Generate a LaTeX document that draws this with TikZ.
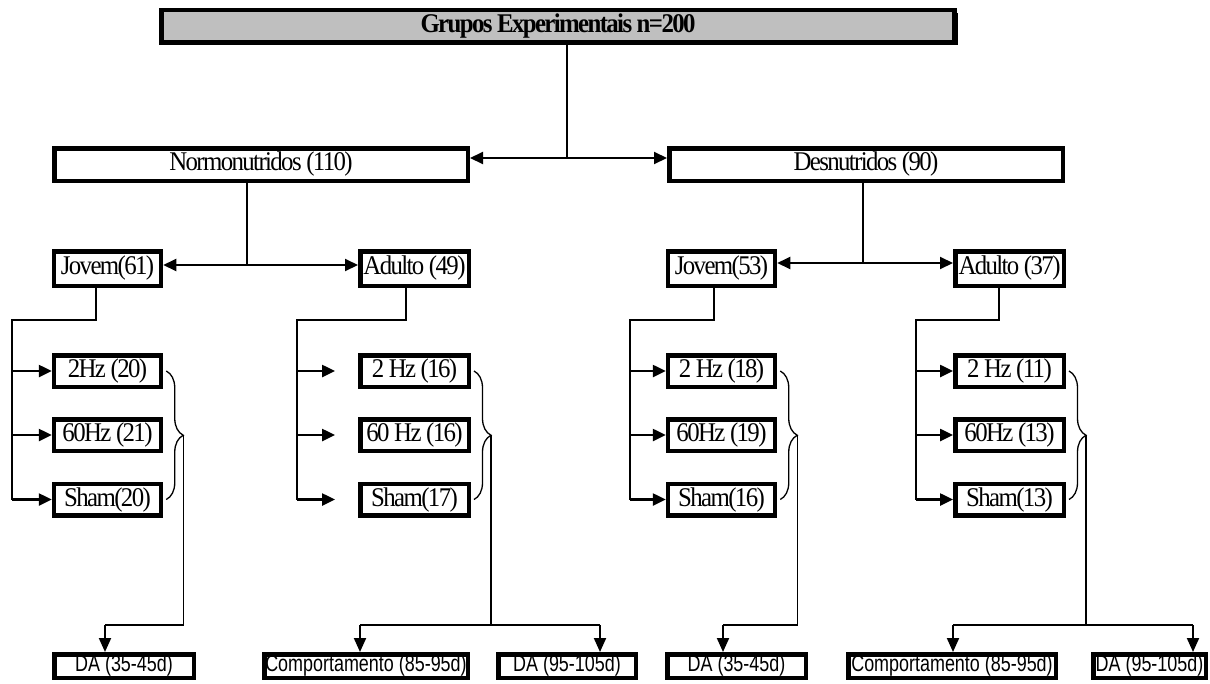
\documentclass[tikz,border=0pt]{standalone}
\usepackage{fontspec}
\usetikzlibrary{arrows.meta,decorations.pathreplacing,shadows,calc}
\newfontfamily\myserif[FakeStretch=0.92,LetterSpace=-6]{Liberation Serif}
\newfontfamily\mysans[FakeStretch=0.78]{Liberation Sans}
\begin{document}
\begin{tikzpicture}[x=1pt,y=-1pt,
  box/.style={draw, line width=4.5pt, fill=white, inner sep=0pt, font=\myserif\fontsize{27}{30}\selectfont},
  lvlbox/.style={box, minimum width=107pt, minimum height=34.5pt},
  grpbox/.style={box, minimum width=107pt, minimum height=31.5pt},
  botbox/.style={box, minimum height=23.5pt, font=\mysans\fontsize{23}{26}\selectfont},
  link/.style={line width=2pt},
  thinlink/.style={line width=1.3pt},
  arrlink/.style={line width=2pt, -{Triangle[length=13pt,width=12pt]}},
  grparr/.style={line width=2.5pt, -{Triangle[length=13pt,width=12pt]}},
  downarr/.style={line width=2pt, -{Triangle[length=14pt,width=12pt]}},
  bracestyle/.style={line width=1.3pt, decorate, decoration={brace, amplitude=17pt}}
]
\useasboundingbox (0,0) rectangle (1210,683);

% top
\node[box, fill=black!25, minimum width=793pt, minimum height=32.5pt,
      drop shadow={shadow xshift=3pt, shadow yshift=-3pt, fill=black, opacity=1},
      font=\myserif\bfseries\fontsize{27}{30}\selectfont] (T) at (558,26) {Grupos Experimentais n=200};

% level 2
\node[box, minimum width=413.5pt, minimum height=32.5pt] (N) at (261,164.5) {Normonutridos (110)};
\node[box, minimum width=393.5pt, minimum height=32.5pt] (D) at (866,164.5) {Desnutridos (90)};

% level 3
\node[lvlbox] (J1) at (107.5,268.5) {Jovem(61)};
\node[lvlbox, minimum width=108.5pt] (A1) at (414.5,268.5) {Adulto (49)};
\node[lvlbox] (J2) at (721.5,268.5) {Jovem(53)};
\node[lvlbox, minimum width=108.5pt] (A2) at (1009.5,268.5) {Adulto (37)};

% level 4
\node[grpbox] (J1a) at (107.5,371) {2Hz (20)};
\node[grpbox] (J1b) at (107.5,435) {60Hz (21)};
\node[grpbox] (J1c) at (107.5,499.5) {Sham(20)};
\node[grpbox, minimum width=108.5pt] (A1a) at (414.5,371) {2 Hz (16)};
\node[grpbox, minimum width=108.5pt] (A1b) at (414.5,435) {60 Hz (16)};
\node[grpbox, minimum width=108.5pt] (A1c) at (414.5,499.5) {Sham(17)};
\node[grpbox] (J2a) at (721.5,371) {2 Hz (18)};
\node[grpbox] (J2b) at (721.5,435) {60Hz (19)};
\node[grpbox] (J2c) at (721.5,499.5) {Sham(16)};
\node[grpbox, minimum width=108.5pt] (A2a) at (1009.5,371) {2 Hz (11)};
\node[grpbox, minimum width=108.5pt] (A2b) at (1009.5,435) {60Hz (13)};
\node[grpbox, minimum width=108.5pt] (A2c) at (1009.5,499.5) {Sham(13)};

% bottom
\node[botbox, minimum width=139.5pt] (B1) at (124,666) {DA (35-45d)};
\node[botbox, minimum width=203.5pt] (B2) at (366,666) {Comportamento (85-95d)};
\node[botbox, minimum width=137.5pt] (B3) at (567,666) {DA (95-105d)};
\node[botbox, minimum width=138.5pt] (B4) at (736.5,666) {DA (35-45d)};
\node[botbox, minimum width=207.5pt] (B5) at (952,666) {Comportamento (85-95d)};
\node[botbox, minimum width=112.5pt] (B6) at (1149.5,666) {DA (95-105d)};

% top connectors
\coordinate (jT) at (567,158);
\draw[link] (T.south -| jT) -- (jT);
\draw[arrlink] (jT) -- (N.east |- jT);
\draw[arrlink] (jT) -- (D.west |- jT);

\coordinate (jN) at (247,265);
\draw[link] (N.south -| jN) -- (jN);
\draw[arrlink] (jN) -- (J1.east |- jN);
\draw[arrlink] (jN) -- (A1.west |- jN);

\coordinate (jD) at (863,263);
\draw[link] (D.south -| jD) -- (jD);
\draw[arrlink] (jD) -- (J2.east |- jD);
\draw[arrlink] (jD) -- (A2.west |- jD);

% group connectors
\coordinate (cJ1) at (96,320);  \coordinate (gJ1) at (12,320);
\coordinate (cA1) at (406,320); \coordinate (gA1) at (297,320);
\coordinate (cJ2) at (714,320); \coordinate (gJ2) at (630,320);
\coordinate (cA2) at (999,320); \coordinate (gA2) at (916,320);

\draw[thinlink] (J1.south -| cJ1) -- (cJ1) -- (gJ1) -- (gJ1 |- J1c);
\draw[thinlink] (A1.south -| cA1) -- (cA1) -- (gA1) -- (gA1 |- A1c);
\draw[thinlink] (J2.south -| cJ2) -- (cJ2) -- (gJ2) -- (gJ2 |- J2c);
\draw[thinlink] (A2.south -| cA2) -- (cA2) -- (gA2) -- (gA2 |- A2c);

\foreach \n in {J1a,J1b,J1c}{\draw[grparr] (gJ1 |- \n) -- (\n.west);}
\foreach \n in {J2a,J2b,J2c}{\draw[grparr] (gJ2 |- \n) -- (\n.west);}
\foreach \n in {A1a,A1b,A1c}{\draw[grparr] (gA1 |- \n) -- ([xshift=-23pt]\n.west);}
\foreach \n in {A2a,A2b,A2c}{\draw[grparr] (gA2 |- \n) -- (\n.west);}

% braces
\draw[bracestyle] ([xshift=3pt]J1a.east) -- ([xshift=3pt]J1c.east);
\draw[bracestyle] ([xshift=3pt]A1a.east) -- ([xshift=3pt]A1c.east);
\draw[bracestyle] ([xshift=3pt]J2a.east) -- ([xshift=3pt]J2c.east);
\draw[bracestyle] ([xshift=3pt]A2a.east) -- ([xshift=3pt]A2c.east);
\coordinate (tJ1) at ($([xshift=20pt]J1a.east)!0.5!([xshift=20pt]J1c.east)$);
\coordinate (tA1) at ($([xshift=20pt]A1a.east)!0.5!([xshift=20pt]A1c.east)$);
\coordinate (tJ2) at ($([xshift=20pt]J2a.east)!0.5!([xshift=20pt]J2c.east)$);
\coordinate (tA2) at ($([xshift=20pt]A2a.east)!0.5!([xshift=20pt]A2c.east)$);

% bottom connectors
\coordinate (k1) at (105,625);
\coordinate (k2) at (360,625);
\coordinate (k3) at (600,625);
\coordinate (k4) at (723,625);
\coordinate (k5) at (953,625);
\coordinate (k6) at (1193,625);

\draw[thinlink] (tJ1) |- (k1);
\draw[downarr] (k1) -- (k1 |- B1.north);
\draw[thinlink] (tA1) -- (tA1 |- k2);
\draw[thinlink] (k2) -- (k3);
\draw[downarr] (k2) -- (k2 |- B2.north);
\draw[downarr] (k3) -- (k3 |- B3.north);
\draw[thinlink] (tJ2) |- (k4);
\draw[downarr] (k4) -- (k4 |- B4.north);
\draw[thinlink] (tA2) -- (tA2 |- k5);
\draw[thinlink] (k5) -- (k6);
\draw[downarr] (k5) -- (k5 |- B5.north);
\draw[downarr] (k6) -- (k6 |- B6.north);
\end{tikzpicture}
\end{document}
